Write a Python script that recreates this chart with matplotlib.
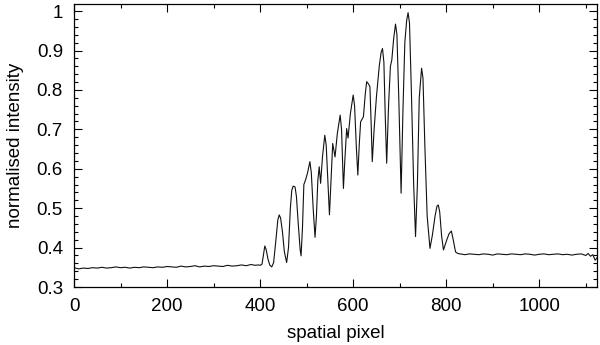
import numpy as np
import matplotlib
matplotlib.use('Agg')
import matplotlib.pyplot as plt
from matplotlib.ticker import MultipleLocator

plt.rcParams['font.family'] = ['Liberation Sans', 'DejaVu Sans']

# flat part left of the fringes (noise estimated)
left_px = [0, 10, 20, 30, 40, 50, 60, 70, 80, 90, 100, 110, 120, 130, 140, 150,
           160, 170, 180, 190, 200, 210, 220, 230, 240, 250, 260, 270, 280, 290,
           300, 310, 320, 330, 340, 350, 360, 370, 380, 390, 396]
left_int = [0.349, 0.346, 0.348, 0.347, 0.349, 0.348, 0.350, 0.348, 0.349, 0.351,
            0.349, 0.350, 0.348, 0.350, 0.349, 0.351, 0.350, 0.349, 0.351, 0.350,
            0.352, 0.351, 0.350, 0.353, 0.351, 0.352, 0.354, 0.351, 0.353, 0.352,
            0.354, 0.353, 0.352, 0.355, 0.353, 0.354, 0.356, 0.354, 0.357, 0.355,
            0.356]

# fringe region
fr_px = [400, 404, 407, 410, 413, 417, 421, 425, 429, 434, 438, 441, 444, 448,
         452, 457, 461, 465, 468, 471, 475, 478, 482, 486, 488, 491, 494, 498,
         502, 507, 510, 514, 518, 521, 524, 527, 530, 534, 539, 542, 546, 549,
         552, 556, 561, 566, 572, 575, 579, 582, 586, 589, 594, 600, 603, 607,
         610, 613, 616, 622, 626, 629, 633, 636, 639, 641, 645, 650, 656, 660,
         663, 666, 669, 672, 676, 680, 683, 687, 691, 694, 698, 703, 707, 711,
         715, 718, 721, 725, 730, 734, 738, 742, 747, 750, 754, 759, 765, 770,
         776, 780, 783, 786, 790, 794, 797, 801, 806, 811, 815, 820, 825]
fr_int = [0.355, 0.358, 0.380, 0.404, 0.395, 0.370, 0.355, 0.351, 0.362, 0.420,
          0.470, 0.483, 0.475, 0.440, 0.390, 0.362, 0.400, 0.500, 0.545, 0.556,
          0.554, 0.530, 0.460, 0.395, 0.379, 0.450, 0.560, 0.573, 0.590, 0.618,
          0.590, 0.500, 0.426, 0.480, 0.570, 0.605, 0.563, 0.630, 0.685, 0.660,
          0.560, 0.483, 0.560, 0.664, 0.630, 0.690, 0.736, 0.700, 0.550, 0.620,
          0.702, 0.678, 0.740, 0.787, 0.760, 0.650, 0.584, 0.660, 0.719, 0.732,
          0.790, 0.821, 0.815, 0.808, 0.700, 0.618, 0.700, 0.783, 0.860, 0.895,
          0.905, 0.870, 0.730, 0.614, 0.760, 0.860, 0.876, 0.930, 0.967, 0.940,
          0.780, 0.538, 0.750, 0.920, 0.977, 0.996, 0.970, 0.800, 0.560, 0.428,
          0.560, 0.780, 0.855, 0.830, 0.660, 0.480, 0.398, 0.430, 0.480, 0.505,
          0.508, 0.490, 0.430, 0.394, 0.405, 0.419, 0.435, 0.442, 0.420, 0.389,
          0.385]

# flat part right of the fringes
right_px = [830, 840, 850, 860, 870, 880, 890, 900, 910, 920, 930, 940, 950, 960,
            970, 980, 990, 1000, 1010, 1020, 1030, 1040, 1050, 1060, 1070, 1080,
            1090, 1100, 1105, 1110, 1115, 1120, 1124]
right_int = [0.384, 0.382, 0.384, 0.383, 0.382, 0.384, 0.383, 0.381, 0.384, 0.383,
             0.382, 0.384, 0.383, 0.382, 0.384, 0.383, 0.381, 0.383, 0.384, 0.382,
             0.383, 0.384, 0.382, 0.383, 0.381, 0.383, 0.384, 0.380, 0.385, 0.378,
             0.382, 0.368, 0.374]

px = np.array(left_px + fr_px + right_px)
inten = np.array(left_int + fr_int + right_int)

fig = plt.figure(figsize=(6.0, 3.45), dpi=100)
ax = fig.add_axes([74/600, 58/345, 523/600, 283/345])
ax.plot(px, inten, color='#111111', lw=0.8)

ax.set_xlim(0, 1124)
ax.set_ylim(0.3, 1.018)
ax.xaxis.set_major_locator(MultipleLocator(200))
ax.xaxis.set_minor_locator(MultipleLocator(100))
ax.yaxis.set_minor_locator(MultipleLocator(0.02))
ax.set_yticks([0.3, 0.4, 0.5, 0.6, 0.7, 0.8, 0.9, 1.0])
ax.set_yticklabels(['0.3', '0.4', '0.5', '0.6', '0.7', '0.8', '0.9', '1'])
ax.tick_params(which='both', direction='in', top=True, right=True,
               labelsize=13.5, width=0.8)
ax.tick_params(which='major', length=6, pad=8)
ax.tick_params(which='minor', length=3)
for s in ax.spines.values():
    s.set_linewidth(0.9)

ax.set_xlabel('spatial pixel', fontsize=13.5, labelpad=7)
ax.set_ylabel('normalised intensity', fontsize=13.5, labelpad=9)

fig.savefig('out.png', dpi=100)
